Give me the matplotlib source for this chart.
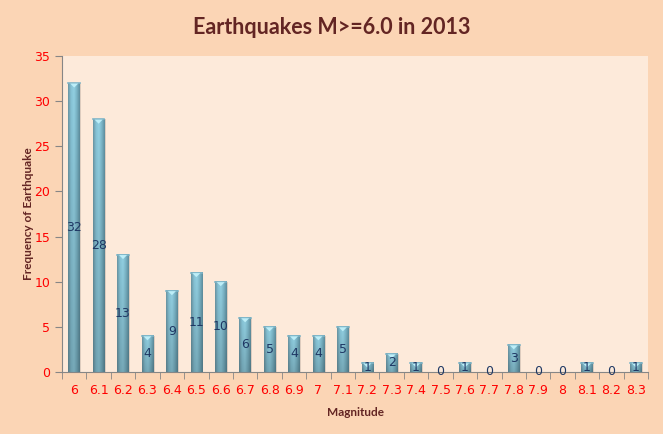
import numpy as np
import matplotlib
matplotlib.use("Agg")
import matplotlib.pyplot as plt
from matplotlib.colors import to_rgb

# data
magnitudes = ["6", "6.1", "6.2", "6.3", "6.4", "6.5", "6.6", "6.7", "6.8", "6.9", "7", "7.1",
              "7.2", "7.3", "7.4", "7.5", "7.6", "7.7", "7.8", "7.9", "8", "8.1", "8.2", "8.3"]
counts = [32, 28, 13, 4, 9, 11, 10, 6, 5, 4, 4, 5, 1, 2, 1, 0, 1, 0, 3, 0, 0, 1, 0, 1]

fig = plt.figure(figsize=(6.63, 4.34), dpi=100, facecolor="#FBD5B5")
ax = fig.add_axes([0.0935, 0.143, 0.884, 0.728])
ax.set_facecolor("#FDEADA")

x = np.arange(len(magnitudes))
bars = ax.bar(x, counts, width=0.47, color="none", edgecolor="none", zorder=2)

# cylinder-ish shading: light centre, darker edges, darker towards the bottom
stops = np.array([to_rgb(c) for c in ["#6A95A3", "#86C3D6", "#92D0E2", "#7AB4C6", "#5E8E9E"]])
pos = np.linspace(0, 1, len(stops))
cols = np.linspace(0, 1, 48)
row = np.stack([np.interp(cols, pos, stops[:, k]) for k in range(3)], axis=-1)
fade = np.linspace(1.0, 0.82, 64)[:, None, None]
img = np.clip(row[None, :, :] * fade, 0, 1)

for b, v in zip(bars, counts):
    if v <= 0:
        continue
    x0, w = b.get_x(), b.get_width()
    ax.imshow(img, aspect="auto", extent=(x0, x0 + w, 0, v),
              zorder=2, interpolation="bilinear")
    # faint shadow on the right
    ax.fill_between([x0 + w, x0 + w * 1.12], 0, v, color="#C9B9AE", alpha=0.6, lw=0, zorder=1.5)
    ax.plot([x0, x0 + w], [v, v], color="#7FB5C7", lw=1.2, zorder=3)
    ax.fill([x0 + w * 0.15, x0 + w * 0.85, x0 + w * 0.5],
            [v - 0.05, v - 0.05, v - 0.5], color="#BDEEF8", zorder=3, lw=0)

for xi, v in zip(x, counts):
    ax.text(xi, v * 0.5, str(v), ha="center", va="center",
            fontsize=9, color="#1F3864", family="DejaVu Sans", zorder=4)

ax.set_xlim(-0.5, len(magnitudes) - 0.5)
ax.set_ylim(0, 35)
ax.set_yticks(range(0, 36, 5))
ax.set_xticks(x)
ax.set_xticklabels(magnitudes)
ax.set_xticks(np.arange(-0.5, len(magnitudes), 1), minor=True)
ax.tick_params(axis="x", which="major", length=0, pad=9, labelsize=9, labelcolor="red")
ax.tick_params(axis="x", which="minor", length=5, direction="out", color="#868686")
ax.tick_params(axis="y", length=5, color="#868686", labelsize=9, labelcolor="red")

for side in ["top", "right"]:
    ax.spines[side].set_visible(False)
for side in ["left", "bottom"]:
    ax.spines[side].set_color("#868686")

ax.set_xlabel("Magnitude", fontsize=8.5, fontweight="bold", color="#632523",
              family="Lato", labelpad=7)
ax.set_ylabel("Frequency of Earthquake", fontsize=8.5, fontweight="bold", color="#632523",
              family="Lato", labelpad=0)
fig.suptitle("Earthquakes M>=6.0 in 2013", fontsize=15.5, fontweight="bold",
             color="#632523", family="Lato", y=0.96)

fig.savefig("out.png", dpi=100, facecolor=fig.get_facecolor())
